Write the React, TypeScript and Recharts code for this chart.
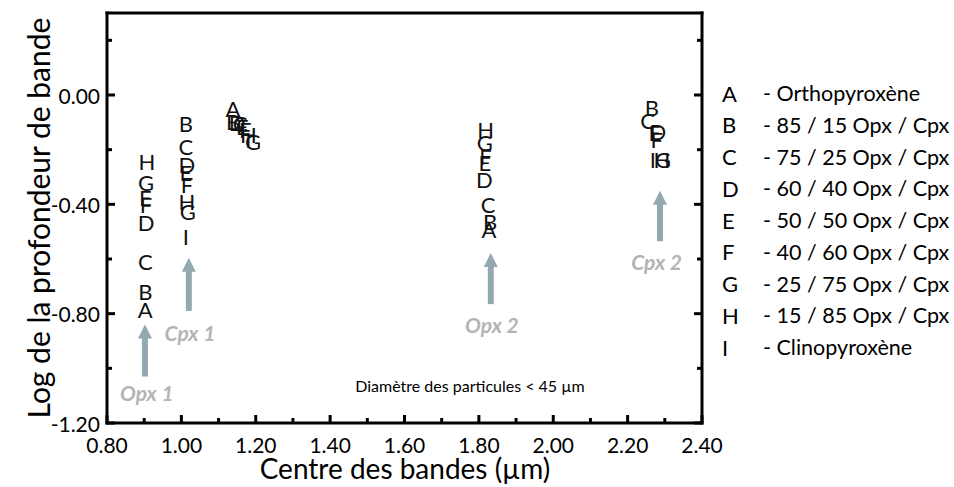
import { ScatterChart, Scatter, XAxis, YAxis, ReferenceLine, Customized } from "recharts"

// ---------- data ----------
const letters = ["A", "B", "C", "D", "E", "F", "G", "H", "I"]
const legendLabels = [
  "- Orthopyroxène",
  "- 85 / 15 Opx / Cpx",
  "- 75 / 25 Opx / Cpx",
  "- 60 / 40 Opx / Cpx",
  "- 50 / 50 Opx / Cpx",
  "- 40 / 60 Opx / Cpx",
  "- 25 / 75 Opx / Cpx",
  "- 15 / 85 Opx / Cpx",
  "- Clinopyroxène",
]

// band centre (x, µm) and log band depth (y) for each sample, null = no band
const opx1X = [0.903, 0.903, 0.903, 0.905, 0.903, 0.905, 0.905, 0.907, null]
const opx1Y = [-0.785, -0.72, -0.61, -0.465, -0.375, -0.4, -0.32, -0.245, null]
const cpx1X = [null, 1.012, 1.012, 1.015, 1.012, 1.015, 1.017, 1.015, 1.012]
const cpx1Y = [null, -0.106, -0.187, -0.253, -0.283, -0.327, -0.426, -0.389, -0.517]
const band3X = [1.139, 1.139, 1.158, 1.15, 1.164, 1.172, 1.193, 1.18, 1.18]
const band3Y = [-0.051, -0.096, -0.106, -0.099, -0.117, -0.125, -0.169, -0.143, -0.162]
const opx2X = [1.827, 1.83, 1.825, 1.815, 1.816, 1.818, 1.816, 1.818, null]
const opx2Y = [-0.492, -0.462, -0.4, -0.308, -0.246, -0.224, -0.173, -0.125, null]
const cpx2X = [null, 2.265, 2.254, 2.281, 2.273, 2.278, 2.295, 2.292, 2.268]
const cpx2Y = [null, -0.044, -0.095, -0.132, -0.136, -0.161, -0.235, -0.235, -0.235]

// arrows pointing at the bands
const arrowNames = ["Opx 1", "Cpx 1", "Opx 2", "Cpx 2"]
const arrowX = [0.902, 1.02, 1.832, 2.287]
const arrowTipY = [-0.84, -0.595, -0.578, -0.35]
const arrowTailY = [-1.03, -0.79, -0.765, -0.535]
const arrowLabelX = [0.907, 1.023, 1.835, 2.278]
const arrowLabelY = [-1.09, -0.87, -0.84, -0.61]

const xTicks = [0.8, 0.9, 1.0, 1.1, 1.2, 1.3, 1.4, 1.5, 1.6, 1.7, 1.8, 1.9, 2.0, 2.1, 2.2, 2.3, 2.4]
const yTicks = [0.2, 0, -0.2, -0.4, -0.6, -0.8, -1.0, -1.2]

const FONT = "Lato, 'Open Sans', sans-serif"
const ARROW = "#93a8b0"
const ARROW_TEXT = "#b4b4b4"

/* =====================================
   TICKS (drawn inward, box frame)
===================================== */

const isMajorX = (v: number) => Math.round(v * 10) % 2 === 0
const isMajorY = (v: number) => Math.round(v * 10) % 4 === 0

const BottomTick = (props: any) => {
  const { x, y, payload } = props
  const major = isMajorX(payload.value)
  return (
    <g>
      <line x1={x} x2={x} y1={y} y2={y - (major ? 8 : 5)} stroke="#000" strokeWidth={3} />
      {major && (
        <text x={x} y={y + 21} textAnchor="middle" dominantBaseline="central" fontSize={21} fill="#000" fontFamily={FONT}>
          {payload.value.toFixed(2)}
        </text>
      )}
    </g>
  )
}

const TopTick = (props: any) => {
  const { x, y, payload } = props
  const major = isMajorX(payload.value)
  return <line x1={x} x2={x} y1={y} y2={y + (major ? 8 : 5)} stroke="#000" strokeWidth={3} />
}

const LeftTick = (props: any) => {
  const { x, y, payload } = props
  const major = isMajorY(payload.value)
  const v = Math.abs(payload.value) < 1e-9 ? 0 : payload.value
  return (
    <g>
      <line x1={x} x2={x + (major ? 8 : 5)} y1={y} y2={y} stroke="#000" strokeWidth={3} />
      {major && (
        <text x={x - 7} y={y} textAnchor="end" dominantBaseline="central" fontSize={21} fill="#000" fontFamily={FONT}>
          {v.toFixed(2)}
        </text>
      )}
    </g>
  )
}

const RightTick = (props: any) => {
  const { x, y, payload } = props
  const major = isMajorY(payload.value)
  return <line x1={x} x2={x - (major ? 8 : 5)} y1={y} y2={y} stroke="#000" strokeWidth={3} />
}

/* =====================================
   TEXT OVERLAY (titles + legend)
===================================== */

const Overlay = () => (
  <g fontFamily={FONT}>
    <text x={405} y={468} textAnchor="middle" dominantBaseline="central" fontSize={28} fill="#000">
      Centre des bandes (µm)
    </text>
    <text
      x={38}
      y={218}
      transform="rotate(-90 38 218)"
      textAnchor="middle"
      dominantBaseline="central"
      fontSize={30}
      fill="#000"
    >
      Log de la profondeur de bande
    </text>
    <text x={470} y={385} textAnchor="middle" dominantBaseline="central" fontSize={16} fill="#000">
      Diamètre des particules &lt; 45 µm
    </text>
    {letters.map((l, i) => (
      <g key={l}>
        <text x={722} y={93 + i * 31.75} dominantBaseline="central" fontSize={22} fill="#000">
          {l}
        </text>
        <text x={763} y={93 + i * 31.75} dominantBaseline="central" fontSize={21.5} fill="#000">
          {legendLabels[i]}
        </text>
      </g>
    ))}
  </g>
)

export default function App() {
  const series = letters.map((l, i) =>
    [
      { x: opx1X[i], y: opx1Y[i] },
      { x: cpx1X[i], y: cpx1Y[i] },
      { x: band3X[i], y: band3Y[i] },
      { x: opx2X[i], y: opx2Y[i] },
      { x: cpx2X[i], y: cpx2Y[i] },
    ].filter((p) => p.x != null)
  )

  const arrowHeads = arrowNames.map((n, i) => ({ x: arrowX[i], y: arrowTipY[i] }))
  const arrowLabels = arrowNames.map((n, i) => ({ x: arrowLabelX[i], y: arrowLabelY[i], name: n }))

  return (
    <div style={{ position: "absolute", left: 0, top: 0, width: 954, height: 487, background: "#fff", fontFamily: FONT }}>
      <ScatterChart width={954} height={487} margin={{ top: 8, right: 247, bottom: 34, left: 47 }}>
        <XAxis
          xAxisId="bottom"
          type="number"
          dataKey="x"
          domain={[0.8, 2.4]}
          ticks={xTicks}
          interval={0}
          height={30}
          tickSize={0}
          tickMargin={0}
          tickLine={false}
          tick={<BottomTick />}
          axisLine={{ stroke: "#000", strokeWidth: 3, strokeLinecap: "square" }}
          allowDataOverflow
        />
        <XAxis
          xAxisId="top"
          orientation="top"
          type="number"
          domain={[0.8, 2.4]}
          ticks={xTicks}
          interval={0}
          height={5}
          tickSize={0}
          tickMargin={0}
          tickLine={false}
          tick={<TopTick />}
          axisLine={{ stroke: "#000", strokeWidth: 3, strokeLinecap: "square" }}
          allowDataOverflow
        />
        <YAxis
          yAxisId="left"
          type="number"
          dataKey="y"
          domain={[-1.2, 0.3]}
          ticks={yTicks}
          interval={0}
          width={60}
          tickSize={0}
          tickMargin={0}
          tickLine={false}
          tick={<LeftTick />}
          axisLine={{ stroke: "#000", strokeWidth: 3, strokeLinecap: "square" }}
          allowDataOverflow
        />
        <YAxis
          yAxisId="right"
          orientation="right"
          type="number"
          domain={[-1.2, 0.3]}
          ticks={yTicks}
          interval={0}
          width={5}
          tickSize={0}
          tickMargin={0}
          tickLine={false}
          tick={<RightTick />}
          axisLine={{ stroke: "#000", strokeWidth: 3, strokeLinecap: "square" }}
          allowDataOverflow
        />

        {/* arrow shafts */}
        {arrowNames.map((n, i) => (
          <ReferenceLine
            key={n}
            xAxisId="bottom"
            yAxisId="left"
            segment={[
              { x: arrowX[i], y: arrowTailY[i] },
              { x: arrowX[i], y: arrowTipY[i] - 0.03 },
            ]}
            stroke={ARROW}
            strokeWidth={6}
            ifOverflow="visible"
          />
        ))}

        {/* arrow heads */}
        <Scatter
          xAxisId="bottom"
          yAxisId="left"
          data={arrowHeads}
          isAnimationActive={false}
          shape={(p: any) => (
            <path d={`M${p.cx},${p.cy} L${p.cx - 7},${p.cy + 14} L${p.cx + 7},${p.cy + 14} Z`} fill={ARROW} />
          )}
        />

        {/* arrow labels */}
        <Scatter
          xAxisId="bottom"
          yAxisId="left"
          data={arrowLabels}
          isAnimationActive={false}
          shape={(p: any) => (
            <text
              x={p.cx}
              y={p.cy}
              textAnchor="middle"
              dominantBaseline="central"
              fontSize={21}
              fontWeight="bold"
              fontStyle="italic"
              fill={ARROW_TEXT}
              fontFamily={FONT}
            >
              {p.payload.name}
            </text>
          )}
        />

        {/* letter markers */}
        {letters.map((l, i) => (
          <Scatter
            key={l}
            name={l}
            xAxisId="bottom"
            yAxisId="left"
            data={series[i]}
            isAnimationActive={false}
            shape={(p: any) => (
              <text
                x={p.cx}
                y={p.cy}
                textAnchor="middle"
                dominantBaseline="central"
                fontSize={22}
                fill="#111"
                fontFamily={FONT}
              >
                {l}
              </text>
            )}
          />
        ))}

        <Customized component={Overlay} />
      </ScatterChart>
    </div>
  )
}
